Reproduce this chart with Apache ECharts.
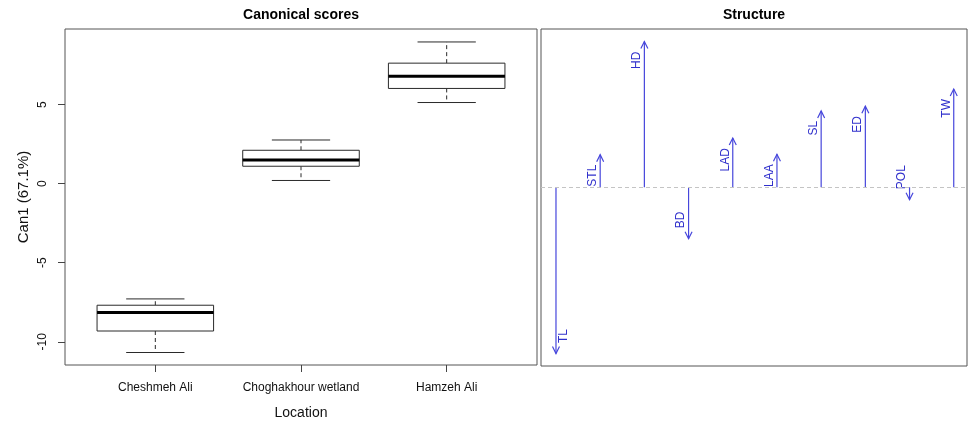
<!DOCTYPE html>
<html>
<head>
<meta charset="utf-8">
<script src="https://cdn.jsdelivr.net/npm/echarts@6/dist/echarts.min.js"></script>
<style>html,body{margin:0;padding:0;background:#fff}#c{width:968px;height:425px}</style>
</head>
<body>
<div id="c"></div>
<script>
// ---- data ----
const categories = ['Cheshmeh Ali', 'Choghakhour wetland', 'Hamzeh Ali'];
const whiskerLow  = [-10.68, 0.20, 5.13];
const q1          = [-9.32, 1.10, 6.02];
const median      = [-8.15, 1.50, 6.79];
const q3          = [-7.69, 2.11, 7.62];
const whiskerHigh = [-7.29, 2.76, 8.96];
const yTicks = [-10, -5, 0, 5];
const variables = ['TL', 'STL', 'HD', 'BD', 'LAD', 'LAA', 'SL', 'ED', 'POL', 'TW'];
const structure = [-0.950, 0.186, 0.832, -0.294, 0.281, 0.188, 0.436, 0.463, -0.071, 0.561];

const FONT = 'Liberation Sans, Arial, Helvetica, sans-serif';
const boxData = categories.map((c, i) => [i + 1, whiskerLow[i], q1[i], median[i], q3[i], whiskerHigh[i]]);
const structData = variables.map((v, i) => [i + 1, structure[i], v]);

const chart = echarts.init(document.getElementById('c'), null, {renderer: 'canvas'});

function renderBox(params, api) {
  const x = api.value(0);
  const lo = api.coord([x, api.value(1)]);
  const b1 = api.coord([x, api.value(2)]);
  const md = api.coord([x, api.value(3)]);
  const b3 = api.coord([x, api.value(4)]);
  const hi = api.coord([x, api.value(5)]);
  const bw = api.size([0.8, 0])[0];
  const cw = api.size([0.4, 0])[0];
  const cx = lo[0];
  const stroke = '#2a2a2a';
  const dash = {stroke: stroke, lineWidth: 1, lineDash: [4, 3]};
  const solid = {stroke: stroke, lineWidth: 1};
  return {
    type: 'group',
    children: [
      {type: 'line', shape: {x1: cx, y1: b3[1], x2: cx, y2: hi[1]}, style: dash},
      {type: 'line', shape: {x1: cx, y1: b1[1], x2: cx, y2: lo[1]}, style: dash},
      {type: 'line', shape: {x1: cx - cw / 2, y1: hi[1], x2: cx + cw / 2, y2: hi[1]}, style: solid},
      {type: 'line', shape: {x1: cx - cw / 2, y1: lo[1], x2: cx + cw / 2, y2: lo[1]}, style: solid},
      {type: 'rect', shape: {x: cx - bw / 2, y: b3[1], width: bw, height: b1[1] - b3[1]},
        style: {fill: '#fff', stroke: stroke, lineWidth: 1}},
      {type: 'line', shape: {x1: cx - bw / 2, y1: md[1], x2: cx + bw / 2, y2: md[1]},
        style: {stroke: '#000', lineWidth: 3}}
    ]
  };
}

function renderArrow(params, api) {
  const x = api.value(0);
  const v = api.value(1);
  const p0 = api.coord([x, 0]);
  const p1 = api.coord([x, v]);
  const up = v >= 0;
  const dir = up ? 1 : -1;
  const hl = 7, hw = 3.5;
  const col = '#4646dc';
  const right = params.dataIndex === 0;
  const tx = p1[0] + (right ? 8 : -7.5);
  const ty = p1[1] + (up ? 10 : -10.5);
  return {
    type: 'group',
    children: [
      {type: 'line', shape: {x1: p0[0], y1: p0[1], x2: p1[0], y2: p1[1]},
        style: {stroke: col, lineWidth: 1.2}},
      {type: 'polyline', shape: {points: [[p1[0] - hw, p1[1] + dir * hl], [p1[0], p1[1]], [p1[0] + hw, p1[1] + dir * hl]]},
        style: {stroke: col, lineWidth: 1.2, fill: 'none'}},
      {type: 'text', x: tx, y: ty, rotation: Math.PI / 2,
        style: {text: api.value(2), fill: '#3030cc', font: '12px ' + FONT,
          align: up ? 'right' : 'left', verticalAlign: 'middle'}}
    ]
  };
}

const option = {
  animation: false,
  backgroundColor: '#fff',
  graphic: [
    {type: 'text', x: 301, y: 15, style: {text: 'Canonical scores', font: 'bold 14px ' + FONT, fill: '#000', align: 'center', verticalAlign: 'middle'}},
    {type: 'text', x: 754, y: 15, style: {text: 'Structure', font: 'bold 14px ' + FONT, fill: '#000', align: 'center', verticalAlign: 'middle'}}
  ],
  grid: [
    {left: 65, top: 29, width: 472, height: 337, show: true, borderColor: '#555', borderWidth: 1, backgroundColor: 'transparent'},
    {left: 541, top: 29, width: 426, height: 337, show: true, borderColor: '#555', borderWidth: 1, backgroundColor: 'transparent'}
  ],
  xAxis: [
    {type: 'value', gridIndex: 0, min: 0.38, max: 3.62, position: 'bottom',
      axisLine: {show: false, onZero: false}, splitLine: {show: false},
      axisTick: {show: true, length: 7, customValues: [1, 2, 3], lineStyle: {color: '#444'}},
      axisLabel: {show: true, customValues: [1, 2, 3], margin: 17, color: '#111', fontSize: 12, fontFamily: FONT,
        formatter: v => categories[Math.round(v) - 1] || ''},
      name: 'Location', nameLocation: 'middle', nameGap: 41,
      nameTextStyle: {fontSize: 14, color: '#111', fontFamily: FONT}},
    {type: 'value', gridIndex: 1, min: 0.661, max: 10.30,
      axisLine: {show: false, onZero: false}, axisTick: {show: false}, axisLabel: {show: false}, splitLine: {show: false}}
  ],
  yAxis: [
    {type: 'value', gridIndex: 0, min: -11.47, max: 9.78, position: 'left',
      axisLine: {show: false, onZero: false}, splitLine: {show: false},
      axisTick: {show: true, length: 7, customValues: yTicks, lineStyle: {color: '#444'}},
      axisLabel: {show: true, customValues: yTicks, rotate: 90, margin: 16, color: '#111', fontSize: 12, fontFamily: FONT},
      name: 'Can1 (67.1%)', nameLocation: 'middle', nameGap: 34,
      nameTextStyle: {fontSize: 15, color: '#111', fontFamily: FONT}},
    {type: 'value', gridIndex: 1, min: -1.021, max: 0.904,
      axisLine: {show: false, onZero: false}, axisTick: {show: false}, axisLabel: {show: false}, splitLine: {show: false}}
  ],
  series: [
    {type: 'custom', xAxisIndex: 0, yAxisIndex: 0, data: boxData, renderItem: renderBox, silent: true},
    {type: 'custom', xAxisIndex: 1, yAxisIndex: 1, data: structData, renderItem: renderArrow, silent: true,
      markLine: {silent: true, symbol: 'none', label: {show: false},
        lineStyle: {type: [4, 3], color: '#c4c4c4', width: 1},
        data: [{yAxis: 0}]}}
  ]
};
chart.setOption(option);
</script>
</body>
</html>
